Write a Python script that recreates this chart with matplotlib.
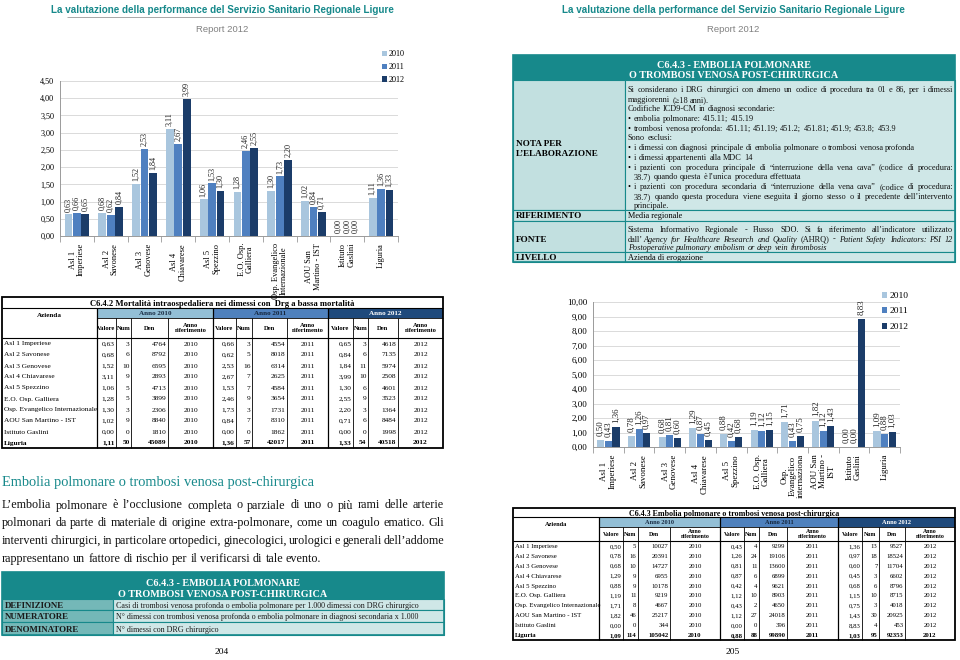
import matplotlib
matplotlib.use("Agg")
import matplotlib.pyplot as plt
import numpy as np
from matplotlib.patches import Rectangle
from matplotlib.ticker import FuncFormatter

# ---- dati -------------------------------------------------------------
aziende = ["Asl 1 Imperiese", "Asl 2 Savonese", "Asl 3 Genovese", "Asl 4 Chiavarese",
           "Asl 5 Spezzino", "E.O. Osp. Galliera", "Osp. Evangelico Internazionale",
           "AOU San Martino - IST", "Istituto Gaslini", "Liguria"]
anni = ["2010", "2011", "2012"]

# C6.4.2 mortalita' DRG a bassa mortalita' (grafico in alto a sinistra)
lbl_mort = ["Asl 1\nImperiese", "Asl 2\nSavonese", "Asl 3\nGenovese", "Asl 4\nChiavarese",
            "Asl 5\nSpezzino", "E.O. Osp.\nGalliera", "Osp. Evangelico\nInternazionale",
            "AOU San\nMartino - IST", "Istituto\nGaslini", "Liguria"]
mort_2010 = [0.63, 0.68, 1.52, 3.11, 1.06, 1.28, 1.30, 1.02, 0.00, 1.11]
mort_2011 = [0.66, 0.62, 2.53, 2.67, 1.53, 2.46, 1.73, 0.84, 0.00, 1.36]
mort_2012 = [0.65, 0.84, 1.84, 3.99, 1.30, 2.55, 2.20, 0.71, 0.00, 1.33]
mort_num_2010 = [3, 6, 10, 9, 5, 5, 3, 9, 0, 50]
mort_num_2011 = [3, 5, 16, 7, 7, 9, 3, 7, 0, 57]
mort_num_2012 = [3, 6, 11, 10, 6, 9, 3, 6, 0, 54]
mort_den_2010 = [4764, 8792, 6595, 2893, 4713, 3899, 2306, 8840, 1810, 45089]
mort_den_2011 = [4554, 8018, 6314, 2625, 4584, 3654, 1731, 8310, 1862, 42017]
mort_den_2012 = [4618, 7135, 5974, 2508, 4601, 3523, 1364, 8484, 1998, 40518]

# C6.4.3 embolia polmonare / trombosi venosa (grafico a destra)
lbl_emb = ["Asl 1\nImperiese", "Asl 2\nSavonese", "Asl 3\nGenovese", "Asl 4\nChiavarese",
           "Asl 5\nSpezzino", "E.O. Osp.\nGalliera", "Osp.\nEvangelico\ninternaziona",
           "AOU San\nMartino -\nIST", "Istituto\nGaslini", "Liguria"]
emb_2010 = [0.50, 0.78, 0.68, 1.29, 0.88, 1.19, 1.71, 1.82, 0.00, 1.09]
emb_2011 = [0.43, 1.26, 0.81, 0.87, 0.42, 1.12, 0.43, 1.12, 0.00, 0.88]
emb_2012 = [1.36, 0.97, 0.60, 0.45, 0.68, 1.15, 0.75, 1.43, 8.83, 1.03]
emb_num_2010 = [5, 16, 10, 9, 9, 11, 8, 46, 0, 114]
emb_num_2011 = [4, 24, 11, 6, 4, 10, 2, 27, 0, 88]
emb_num_2012 = [13, 18, 7, 3, 6, 10, 3, 30, 4, 95]
emb_den_2010 = [10027, 20391, 14727, 6955, 10178, 9219, 4667, 25217, 344, 105042]
emb_den_2011 = [9299, 19106, 13600, 6899, 9621, 8903, 4650, 24018, 396, 99890]
emb_den_2012 = [9527, 18524, 11704, 6602, 8796, 8715, 4018, 20925, 453, 92353]

# ---- stile ------------------------------------------------------------
W, H = 960, 660
SERIF = ['Liberation Serif', 'DejaVu Serif']
SANS = ['Liberation Sans', 'DejaVu Sans']
TEAL = '#17898b'
TEAL_MID = '#74b8b8'
TEAL_LIGHT = '#cfe7e7'
BAR_COL = ['#a9c6de', '#4f80c0', '#1b3c69']
HEAD_COL = ['#93bfd6', '#4f81bd', '#1f4a7c']
HEAD_TXT = ['#1a2d45', '#15263d', 'white']

fig = plt.figure(figsize=(9.6, 6.6), dpi=100)
bg = fig.add_axes([0, 0, 1, 1])
bg.set_xlim(0, W)
bg.set_ylim(H, 0)
bg.axis('off')
renderer = fig.canvas.get_renderer()


def fmt(v):
    return f"{v:.2f}".replace('.', ',')


def put(x, y, s, size=6, ha='left', va='center_baseline', family=SERIF, **kw):
    return bg.text(x, y, s, fontsize=size, ha=ha, va=va, family=family, **kw)


def width_of(s, size, **st):
    t = bg.text(0, 0, s, fontsize=size, family=st.pop('family', SERIF), **st)
    w = t.get_window_extent(renderer).width
    t.remove()
    return w


def tokenize(parts):
    words, new_word = [], True
    for txt, st in parts:
        for i, p in enumerate(txt.split(' ')):
            if i > 0:
                new_word = True
            if p == '':
                continue
            if new_word or not words:
                words.append([(p, st)])
            else:
                words[-1].append((p, st))
            new_word = False
    return words


def runs(x, y, parts, size, x_end=None, color='#111111'):
    # riga di testo con stili misti, giustificata se x_end e' dato
    if isinstance(parts, str):
        parts = [(parts, {})]
    words = tokenize(parts)
    ws = [[width_of(t, size, **st) for t, st in w] for w in words]
    tot = sum(sum(w) for w in ws)
    if x_end is not None and len(words) > 1:
        gap = (x_end - x - tot) / (len(words) - 1)
    else:
        gap = width_of('a a', size) - width_of('aa', size)
    cx = x
    for w, wl in zip(words, ws):
        for (t, st), wd in zip(w, wl):
            put(cx, y, t, size, color=color, **st)
            cx += wd
        cx += gap


def line(x0, y0, x1, y1, lw=0.6, color='black', z=4):
    bg.plot([x0, x1], [y0, y1], color=color, lw=lw, zorder=z, solid_capstyle='butt')


def box(x0, y0, x1, y1, fc, ec='none', lw=0.6, z=1):
    bg.add_patch(Rectangle((x0, y0), x1 - x0, y1 - y0, facecolor=fc, edgecolor=ec, lw=lw, zorder=z))


# ---- intestazioni di pagina ---------------------------------------------
for cx in (222, 733):
    put(cx, 9, "La valutazione della performance del Servizio Sanitario Regionale Ligure",
        7.1, ha='center', family=SANS, weight='bold', color=TEAL)
    line(cx - 155, 17, cx + 155, 17, lw=0.6, color='#9a9a9a')
    put(cx, 28.5, "Report 2012", 6.8, ha='center', family=SANS, color='#808080')
put(222, 651, "204", 6.8, ha='center')
put(733, 651, "205", 6.8, ha='center')


# ---- grafici a barre ----------------------------------------------------
def bar_chart(x0, y0, x1, y1, labels, series, ymax, ystep, tsize, vsize, xsize, vpad):
    ax = fig.add_axes([x0 / W, 1 - y1 / H, (x1 - x0) / W, (y1 - y0) / H])
    x = np.arange(len(labels))
    handles = []
    for k, vals in enumerate(series):
        xs = x + (k - 1) * 0.25
        b = ax.bar(xs, vals, 0.23, color=BAR_COL[k], zorder=3, linewidth=0)
        handles.append(b)
        for xi, v in zip(xs, vals):
            ax.annotate(fmt(v), (xi, v), xytext=(0, vpad), textcoords='offset points',
                        rotation=90, ha='center', va='bottom', fontsize=vsize,
                        family=SERIF, color='#222222', annotation_clip=False)
    ax.set_xlim(-0.5, len(labels) - 0.5)
    ax.set_ylim(0, ymax)
    ax.set_yticks(np.arange(0, ymax + ystep / 2, ystep))
    ax.yaxis.set_major_formatter(FuncFormatter(lambda v, p: fmt(v)))
    ax.set_xticks(x)
    ax.set_xticklabels(labels, rotation=90, fontsize=xsize, family=SERIF,
                       ha='center', va='top', multialignment='center', linespacing=1.05)
    ax.set_xticks(np.arange(-0.5, len(labels)), minor=True)
    ax.tick_params(axis='x', which='major', length=0, pad=5)
    ax.tick_params(axis='x', which='minor', length=4, color='#999999')
    ax.tick_params(axis='y', length=0, labelsize=tsize, pad=4)
    for t in ax.get_yticklabels():
        t.set_family(SERIF)
    ax.grid(axis='y', color='#d4d4d4', lw=0.6, zorder=0)
    for s in ('top', 'right'):
        ax.spines[s].set_visible(False)
    for s in ('left', 'bottom'):
        ax.spines[s].set_color('#9a9a9a')
        ax.spines[s].set_linewidth(0.7)
    return ax, handles


ax1, h1 = bar_chart(60, 81, 398, 236, lbl_mort, [mort_2010, mort_2011, mort_2012],
                    4.5, 0.5, 5.9, 5.9, 6.0, 2)
fig.legend(h1, anni, loc='upper left', bbox_to_anchor=(378 / W, 1 - 46 / H), frameon=False,
           handlelength=0.6, handleheight=0.6, handletextpad=0.2,
           labelspacing=0.6, borderpad=0, prop={'family': SERIF, 'size': 5.9})

ax2, h2 = bar_chart(593, 302, 900, 447, lbl_emb, [emb_2010, emb_2011, emb_2012],
                    10, 1, 6.5, 6.4, 6.4, 3)
fig.legend(h2, anni, loc='upper left', bbox_to_anchor=(877 / W, 1 - 287 / H), frameon=False,
           handlelength=0.6, handleheight=0.6, handletextpad=0.25,
           labelspacing=0.75, borderpad=0, prop={'family': SERIF, 'size': 6.8})


# ---- tabelle dati ---------------------------------------------------------
def data_table(edges, t0, t1, t2, t3, rh, title, tsize, hsize, size, vals, nums, dens):
    x0, xe = edges[0], edges[-1]
    yb = t3 + rh * len(aziende)
    box(x0, t0, xe, yb, 'white', z=1)
    put((x0 + xe) / 2, (t0 + t1) / 2, title, tsize, ha='center', weight='bold')
    for k in range(3):
        a, b = edges[1 + 4 * k], edges[5 + 4 * k]
        box(a, t1, b, t2, HEAD_COL[k], z=2)
        put((a + b) / 2, (t1 + t2) / 2, "Anno " + anni[k], hsize + 0.4, ha='center',
            weight='bold', color=HEAD_TXT[k])
        for j, hd in enumerate(["Valore", "Num", "Den", "Anno\nriferimento"]):
            c0, c1 = edges[1 + 4 * k + j], edges[2 + 4 * k + j]
            bg.text((c0 + c1) / 2, (t2 + t3) / 2, hd, fontsize=hsize, ha='center', va='center',
                    family=SERIF, weight='bold', linespacing=0.95, zorder=5)
    put((x0 + edges[1]) / 2, (t1 + t2) / 2 + 2, "Azienda", hsize + 0.4, ha='center', weight='bold')
    line(x0, t1, xe, t1, 0.8)
    line(edges[1], t2, xe, t2, 0.6)
    line(x0, t3, xe, t3, 0.8)
    for i, e in enumerate(edges[1:-1], start=1):
        top = t1 if (i - 1) % 4 == 0 else t2
        line(e, top, e, yb, 0.9 if (i - 1) % 4 == 0 else 0.6)
    bg.add_patch(Rectangle((x0, t0), xe - x0, yb - t0, fill=False, edgecolor='black',
                           lw=1.3, zorder=6))
    for r, name in enumerate(aziende):
        yc = t3 + rh * (r + 0.5)
        wt = 'bold' if name == 'Liguria' else 'normal'
        put(x0 + 2, yc, name, size, weight=wt)
        for k in range(3):
            cells = [fmt(vals[k][r]), str(nums[k][r]), str(dens[k][r])]
            for j, c in enumerate(cells):
                put(edges[2 + 4 * k + j] - 1.5, yc, c, size, ha='right', weight=wt)
            put((edges[4 + 4 * k] + edges[5 + 4 * k]) / 2, yc, anni[k], size,
                ha='center', weight=wt)


data_table([2, 97, 116, 131, 168, 213, 236, 252, 287, 328, 353, 368, 398, 443],
           297, 308, 318, 338, 11,
           "C6.4.2 Mortalità intraospedaliera nei dimessi con  Drg a bassa mortalità", 6.2, 4.7, 5.3,
           [mort_2010, mort_2011, mort_2012], [mort_num_2010, mort_num_2011, mort_num_2012],
           [mort_den_2010, mort_den_2011, mort_den_2012])

data_table([513, 599, 623, 638, 670, 720, 744, 759, 787, 838, 862, 879, 905, 955],
           508, 517, 527, 541, 9.9,
           "C6.4.3 Embolia polmonare o trombosi venosa post-chirurgica", 5.8, 4.2, 4.9,
           [emb_2010, emb_2011, emb_2012], [emb_num_2010, emb_num_2011, emb_num_2012],
           [emb_den_2010, emb_den_2011, emb_den_2012])

# ---- testo della pagina sinistra ----------------------------------------
put(2, 481, "Embolia polmonare o trombosi venosa post-chirurgica", 10.4, color=TEAL)
para = ["L’embolia polmonare è l’occlusione completa o parziale di uno o più rami delle arterie",
        "polmonari da parte di materiale di origine extra-polmonare, come un coagulo ematico. Gli",
        "interventi chirurgici, in particolare ortopedici, ginecologici, urologici e generali dell’addome",
        "rappresentano un fattore di rischio per il verificarsi di tale evento."]
for i, s in enumerate(para):
    runs(2, 504 + 17.7 * i, s, 8.7, x_end=444 if i < len(para) - 1 else None)

# riquadro definizione
box(2, 572, 444, 599, TEAL)
put(223, 583, "C6.4.3 - EMBOLIA POLMONARE", 7.3, ha='center', weight='bold', color='white')
put(223, 593.5, "O TROMBOSI VENOSA POST-CHIRURGICA", 7.3, ha='center', weight='bold', color='white')
def_rows = [("DEFINIZIONE", "Casi di trombosi venosa profonda o embolia polmonare per 1.000 dimessi con DRG chirurgico"),
            ("NUMERATORE", "N° dimessi con trombosi venosa profonda o embolia polmonare in diagnosi secondaria x 1.000"),
            ("DENOMINATORE", "N° dimessi con DRG chirurgico")]
ys = [599, 610, 622, 635]
for (lab, txt), a, b in zip(def_rows, ys[:-1], ys[1:]):
    box(2, a, 113, b, TEAL_MID, ec=TEAL, lw=0.8)
    box(113, a, 444, b, TEAL_LIGHT, ec=TEAL, lw=0.8)
    put(5, (a + b) / 2, lab, 6.4, weight='bold', color='#1a1a1a')
    put(116, (a + b) / 2, txt, 5.75, color='#1a1a1a')
bg.add_patch(Rectangle((2, 572), 442, 63, fill=False, edgecolor=TEAL, lw=1.2, zorder=6))

# ---- riquadro nota (pagina destra) ---------------------------------------
box(513, 55, 955, 80, TEAL)
put(734, 64.5, "C6.4.3 - EMBOLIA POLMONARE", 7.3, ha='center', weight='bold', color='white')
put(734, 74, "O TROMBOSI VENOSA POST-CHIRURGICA", 7.3, ha='center', weight='bold', color='white')
note_rows = [80, 210, 221, 252, 262]
for a, b in zip(note_rows[:-1], note_rows[1:]):
    box(513, a, 625, b, '#c2e0e0', ec=TEAL, lw=0.8)
    box(625, a, 955, b, TEAL_LIGHT, ec=TEAL, lw=0.8)
bg.add_patch(Rectangle((513, 55), 442, 207, fill=False, edgecolor=TEAL, lw=1.2, zorder=6))

put(516, 143, "NOTA PER", 6.6, weight='bold')
put(516, 152.5, "L’ELABORAZIONE", 6.6, weight='bold')
put(516, 215.5, "RIFERIMENTO", 6.6, weight='bold')
put(516, 238.5, "FONTE", 6.6, weight='bold')
put(516, 257, "LIVELLO", 6.6, weight='bold')

NS = 5.95
XT, XB, XI, XE = 628, 629, 634, 953
note_lines = [
    (XT, "Si considerano i DRG chirurgici con almeno un codice di procedura tra 01 e 86, per i dimessi", True, False),
    (XT, "maggiorenni (≥18 anni).", False, False),
    (XT, "Codifiche ICD9-CM in diagnosi secondarie:", False, False),
    (XI, "embolia polmonare: 415.11; 415.19", False, True),
    (XI, "trombosi venosa profonda: 451.11; 451.19; 451.2; 451.81; 451.9; 453.8; 453.9", False, True),
    (XT, "Sono esclusi:", False, False),
    (XI, "i dimessi con diagnosi principale di embolia polmonare o trombosi venosa profonda", False, True),
    (XI, "i dimessi appartenenti alla MDC 14", False, True),
    (XI, "i pazienti con procedura principale di “interruzione della vena cava” (codice di procedura:", True, True),
    (XI, "38.7) quando questa è l’unica procedura effettuata", False, False),
    (XI, "i pazienti con procedura secondaria di “interruzione della vena cava” (codice di procedura:", True, True),
    (XI, "38.7) quando questa procedura viene eseguita il giorno stesso o il precedente dell’intervento", True, False),
    (XI, "principale.", False, False),
]
for i, (xs, s, just, bullet) in enumerate(note_lines):
    y = 89 + 9.7 * i
    if bullet:
        put(XB - 1, y, "•", NS)
    runs(xs, y, s, NS, x_end=XE if just else None)

put(XT, 215.5, "Media regionale", NS)
IT = {'style': 'italic'}
runs(XT, 229, "Sistema Informativo Regionale - Flusso SDO. Si fa riferimento all’indicatore utilizzato", NS, x_end=XE)
runs(XT, 238.5, [("dall’", {}), ("Agency for Healthcare Research and Quality", IT), (" (AHRQ) - ", {}),
                 ("Patient Safety Indicators: PSI 12", IT)], NS, x_end=XE)
runs(XT, 247.5, [("Postoperative pulmonary embolism or deep vein thrombosis", IT)], NS)
put(XT, 257, "Azienda di erogazione", NS)

fig.savefig("out.png", dpi=100)
